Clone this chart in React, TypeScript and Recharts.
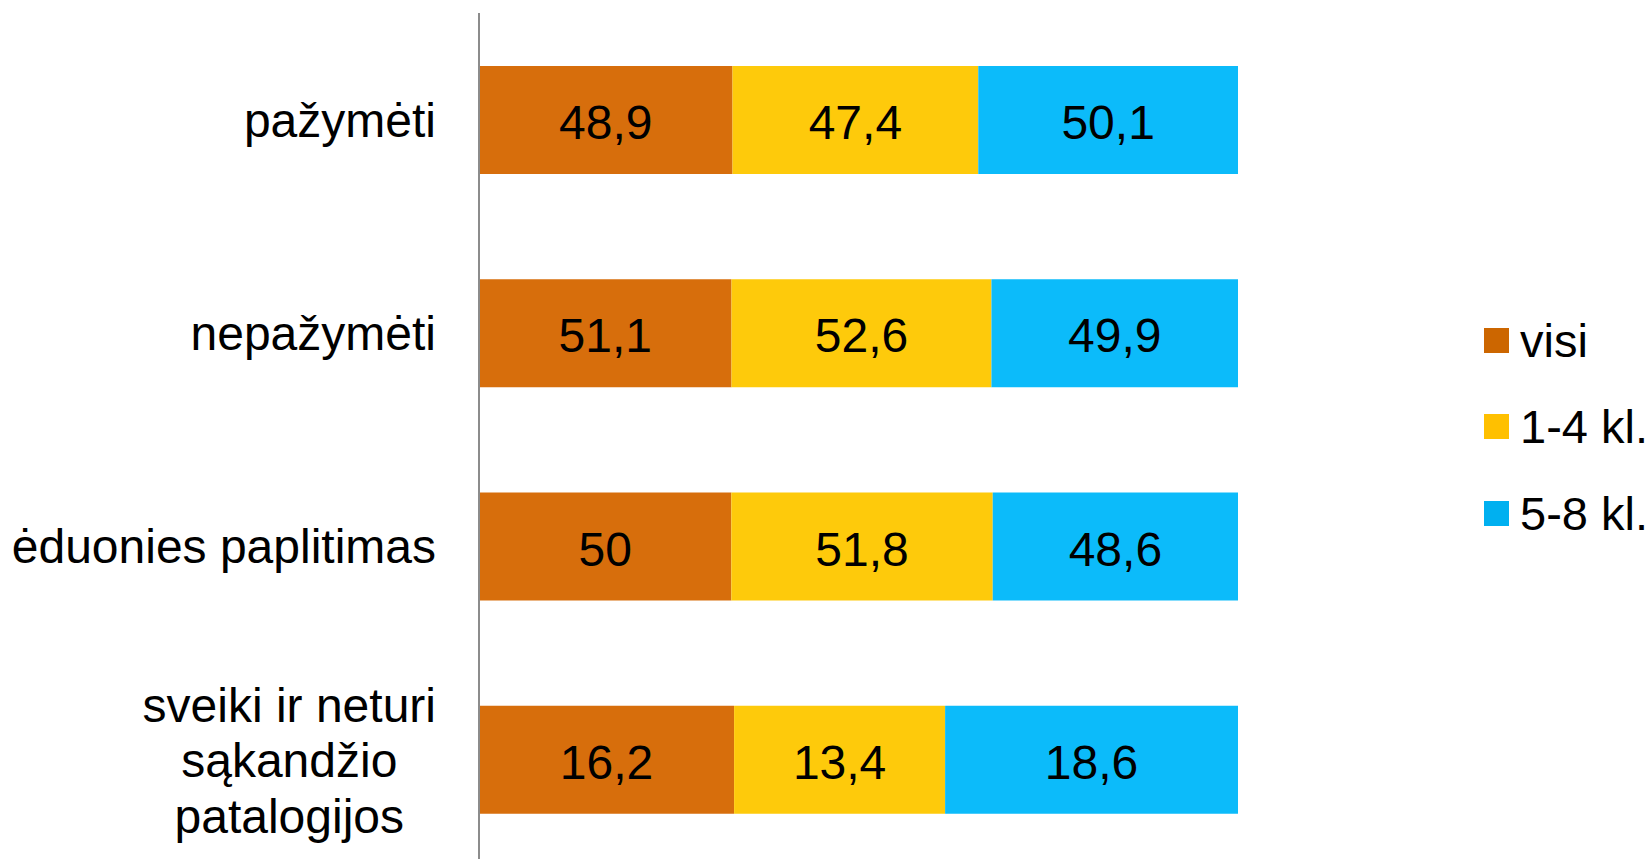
import React from "react";
import { BarChart, Bar, XAxis, YAxis, LabelList } from "recharts";

// Categories (top to bottom)
const categories = [
  "pažymėti",
  "nepažymėti",
  "ėduonies paplitimas",
  "sveiki ir neturi\nsąkandžio\npatalogijos",
];

// Series values (%)
const visi = [48.9, 51.1, 50, 16.2];
const kl14 = [47.4, 52.6, 51.8, 13.4];
const kl58 = [50.1, 49.9, 48.6, 18.6];

const seriesNames = ["visi", "1-4 kl.", "5-8 kl."];
const seriesKeys = ["visi", "kl14", "kl58"];
const barColors = ["#D76E0C", "#FECA0B", "#0CBBFA"];
const legendColors = ["#CC6600", "#FFC000", "#00B0F0"];

const data = categories.map((name, i) => ({
  name,
  visi: visi[i],
  kl14: kl14[i],
  kl58: kl58[i],
}));

const FONT = '"Liberation Sans", Arial, sans-serif';
const LABEL_SIZE = 48;
const LINE_HEIGHT = 55.5;
const LABEL_GAP = 43;

let measureCtx: CanvasRenderingContext2D | null = null;
function textWidth(s: string): number {
  if (!measureCtx) {
    const c = document.createElement("canvas");
    measureCtx = c.getContext("2d");
  }
  if (!measureCtx) return s.length * LABEL_SIZE * 0.5;
  measureCtx.font = `${LABEL_SIZE}px ${FONT}`;
  return measureCtx.measureText(s).width;
}

const CategoryTick = (props: any) => {
  const { x, y, payload } = props;
  const lines: string[] = String(payload.value).split("\n");
  const right = x - LABEL_GAP;
  if (lines.length === 1) {
    return (
      <text
        x={right}
        y={y}
        dy={17}
        textAnchor="end"
        fontSize={LABEL_SIZE}
        fontFamily={FONT}
        fill="#000"
      >
        {lines[0]}
      </text>
    );
  }
  const maxW = Math.max(...lines.map(textWidth));
  const cx = right - maxW / 2;
  const startOffset = -((lines.length - 1) / 2) * LINE_HEIGHT;
  return (
    <text
      x={cx}
      y={y}
      textAnchor="middle"
      fontSize={LABEL_SIZE}
      fontFamily={FONT}
      fill="#000"
    >
      {lines.map((l, i) => (
        <tspan key={i} x={cx} y={y + startOffset + i * LINE_HEIGHT + 18}>
          {l}
        </tspan>
      ))}
    </text>
  );
};

const fmt = (v: any) => String(v).replace(".", ",");

export default function App() {
  return (
    <div
      style={{
        position: "fixed",
        left: 0,
        top: 0,
        width: 1651,
        height: 859,
        overflow: "hidden",
        background: "#fff",
        fontFamily: FONT,
      }}
    >
      <BarChart
        width={1651}
        height={873}
        data={data}
        layout="vertical"
        stackOffset="expand"
        barSize={108}
        margin={{ top: 13, right: 413, bottom: 7, left: 0 }}
      >
        <XAxis type="number" hide domain={[0, 1]} />
        <YAxis
          type="category"
          dataKey="name"
          width={479}
          tickLine={false}
          tickSize={0}
          tickMargin={0}
          axisLine={{ stroke: "#8C8C8C", strokeWidth: 2 }}
          tick={<CategoryTick />}
          interval={0}
        />
        {seriesKeys.map((k, i) => (
          <Bar
            key={k}
            dataKey={k}
            name={seriesNames[i]}
            stackId="a"
            fill={barColors[i]}
            isAnimationActive={false}
          >
            <LabelList
              dataKey={k}
              position="center"
              formatter={fmt}
              fill="#000"
              fontSize={LABEL_SIZE}
              fontFamily={FONT}
              dy={2}
            />
          </Bar>
        ))}
      </BarChart>
      <div
        style={{
          position: "absolute",
          left: 1484,
          top: 297,
        }}
      >
        {seriesNames.map((n, i) => (
          <div
            key={n}
            style={{
              display: "flex",
              alignItems: "center",
              height: 86.5,
            }}
          >
            <div
              style={{
                width: 25,
                height: 25,
                background: legendColors[i],
                marginRight: 11,
              }}
            />
            <span style={{ fontSize: 47, color: "#000", whiteSpace: "nowrap" }}>
              {n}
            </span>
          </div>
        ))}
      </div>
    </div>
  );
}
